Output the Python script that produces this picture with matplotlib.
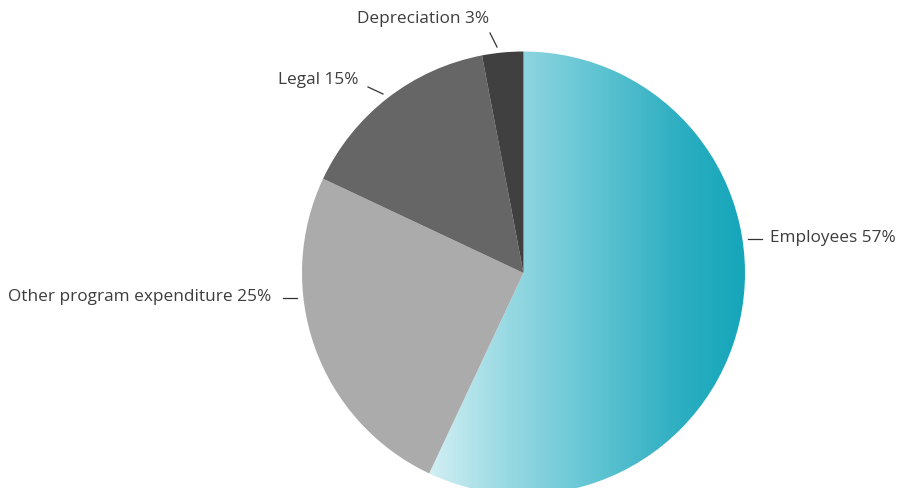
import matplotlib.pyplot as plt
import numpy as np
from matplotlib.colors import LinearSegmentedColormap

# expenditure breakdown, percent of total
categories = ['Employees', 'Other program expenditure', 'Legal', 'Depreciation']
shares = [57, 25, 15, 3]
slice_colors = ['none', '#ababab', '#666666', '#404040']

W, H = 897, 488
cx, cy, r = 523.5, H - 273, 221.5

# label anchors (pixel coords from the top-left) and leader lines
label_pos = [(770, 238, 'left'), (271, 297, 'right'), (359, 80, 'right'), (423, 19, 'center')]
leaders = [((748, 239), (762, 239)), ((283, 298), (297, 298)),
           ((368, 87), (383, 94)), ((490, 33), (497, 47))]

fig = plt.figure(figsize=(W / 100, H / 100), dpi=100)
ax = fig.add_axes([0, 0, 1, 1])

wedges, _ = ax.pie(shares, colors=slice_colors, startangle=90, counterclock=False,
                   center=(cx, cy), radius=r)

# horizontal teal gradient for the Employees slice
teal = LinearSegmentedColormap.from_list('teal', [
    (0.0, '#d2eff3'), (0.25, '#97d9e3'), (0.5, '#66c6d4'),
    (0.8, '#2caec1'), (1.0, '#15a6ba')])
end_angle = np.deg2rad(90 - 360 * shares[0] / sum(shares))
x0 = cx + r * np.cos(end_angle)
grad = np.linspace(0, 1, 512).reshape(1, -1)
im = ax.imshow(grad, cmap=teal, extent=[x0, cx + r, cy - r, cy + r],
               aspect='auto', interpolation='bilinear', zorder=0.5)
im.set_clip_path(wedges[0])

for name, val, (x, y, ha) in zip(categories, shares, label_pos):
    ax.text(x, H - y, f'{name} {val}%', ha=ha, va='center', fontsize=12.4,
            family='Open Sans', color='#3d3d3d')

for (a, b) in leaders:
    ax.plot([a[0], b[0]], [H - a[1], H - b[1]], color='#333333', lw=0.9)

ax.set_xlim(0, W)
ax.set_ylim(0, H)
ax.set_aspect('auto')
ax.axis('off')

fig.savefig('out.png', dpi=100)
